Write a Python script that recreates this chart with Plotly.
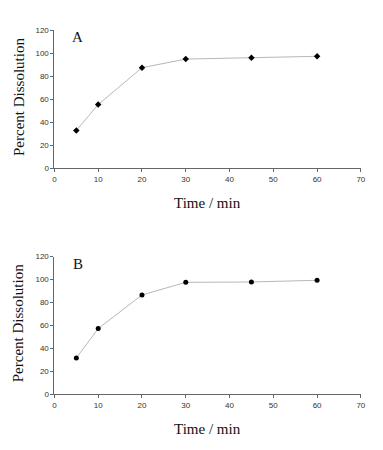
import plotly.graph_objects as go

time_min = [5, 10, 20, 30, 45, 60]
dissolution_a = [33, 55.5, 87.5, 95, 96.2, 97.4]
dissolution_b = [31.6, 57.2, 86.5, 97.5, 97.8, 99.3]
x_ticks = [0, 10, 20, 30, 40, 50, 60, 70]
y_ticks = [0, 20, 40, 60, 80, 100, 120]

# page body has an 8px default margin; size the figure to fill the 383x450 window
OFF = 8
W, H = 383 - 2 * OFF, 450 - 2 * OFF
fig = go.Figure()

fig.add_trace(go.Scatter(x=time_min, y=dissolution_a, mode="lines+markers",
                         line=dict(color="#b8b8b8", width=1),
                         marker=dict(symbol="diamond", size=5, color="black"),
                         xaxis="x", yaxis="y", showlegend=False))
fig.add_trace(go.Scatter(x=time_min, y=dissolution_b, mode="lines+markers",
                         line=dict(color="#b8b8b8", width=1),
                         marker=dict(symbol="circle", size=5, color="black"),
                         xaxis="x2", yaxis="y2", showlegend=False))

def px_x(p):
    return (p - OFF) / W

def px_y(p):
    return 1 - (p - OFF) / H

tickfont = dict(family="Liberation Sans, Arial", size=8, color="#333")
axis_common = dict(showgrid=False, zeroline=False, showline=True, linecolor="#666",
                   linewidth=1, ticks="outside", ticklen=3, tickcolor="#666",
                   tickwidth=1, tickfont=tickfont)

xd = [px_x(53.3), px_x(365.7)]
fig.update_layout(
    width=W, height=H,
    margin=dict(l=0, r=0, t=0, b=0),
    paper_bgcolor="white", plot_bgcolor="white",
    xaxis=dict(domain=xd, range=[0, 70], tickvals=x_ticks, anchor="y", **axis_common),
    yaxis=dict(domain=[px_y(167.7), px_y(26.7)], range=[0, 120], tickvals=y_ticks,
               anchor="x", **axis_common),
    xaxis2=dict(domain=xd, range=[0, 70], tickvals=x_ticks, anchor="y2", **axis_common),
    yaxis2=dict(domain=[px_y(398.3), px_y(257.7)], range=[0, 120], tickvals=y_ticks,
                anchor="x2", **axis_common),
)

serif = dict(family="Liberation Serif, Times New Roman", size=15, color="#111")
ann = []
for yc in (95, 326):
    ann.append(dict(text="Percent Dissolution", x=px_x(17), y=px_y(yc), xref="paper",
                    yref="paper", showarrow=False, textangle=-90, font=serif,
                    xanchor="center", yanchor="middle"))
for yc in (203, 434):
    ann.append(dict(text="Time / min", x=px_x(209.5), y=px_y(yc), xref="paper",
                    yref="paper", showarrow=False, font=serif,
                    xanchor="center", yanchor="middle"))
ann.append(dict(text="A", x=px_x(77), y=px_y(34), xref="paper", yref="paper",
                showarrow=False, font=serif, xanchor="center", yanchor="middle"))
ann.append(dict(text="B", x=px_x(77), y=px_y(265), xref="paper", yref="paper",
                showarrow=False, font=serif, xanchor="center", yanchor="middle"))
fig.update_layout(annotations=ann)

fig.write_html("out.html", config={"displayModeBar": False})
